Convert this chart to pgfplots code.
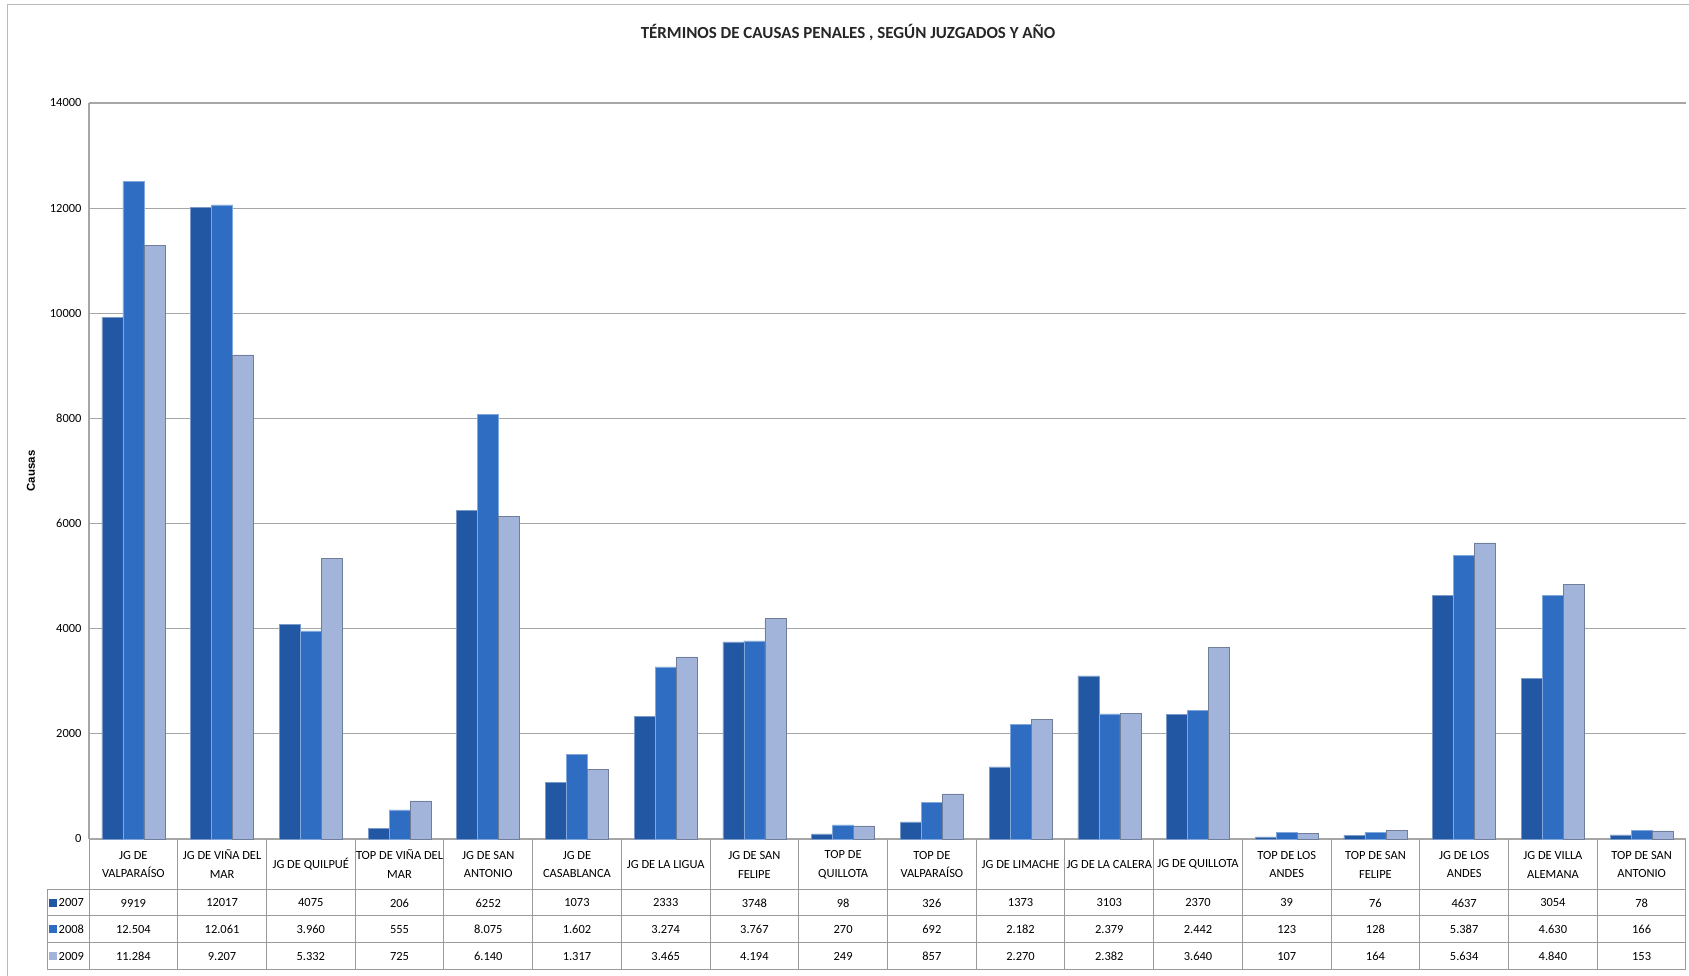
\documentclass[border=0pt]{standalone}
\usepackage{pgfplots}
\pgfplotsset{compat=1.18}
\usepackage{pgfplotstable}
\usepackage{fontspec}
\setmainfont{Carlito}
\newfontfamily\arialf{Liberation Sans}
\pgfkeys{/pgf/number format/assume math mode=true}

\definecolor{gridc}{HTML}{A6A6A6}
\definecolor{tblc}{HTML}{9A9A9A}
\definecolor{ca}{HTML}{2257A4}
\definecolor{cb}{HTML}{2F6DC2}
\definecolor{cc}{HTML}{A2B4DA}

\pgfplotstableread{
idx a b c
0 9919 12504 11284
1 12017 12061 9207
2 4075 3960 5332
3 206 555 725
4 6252 8075 6140
5 1073 1602 1317
6 2333 3274 3465
7 3748 3767 4194
8 98 270 249
9 326 692 857
10 1373 2182 2270
11 3103 2379 2382
12 2370 2442 3640
13 39 123 107
14 76 128 164
15 4637 5387 5634
16 3054 4630 4840
17 78 166 153
}\data

\newcommand\tblfont{\fontsize{12.5}{19}\selectfont}

\begin{document}
\begin{tikzpicture}
\useasboundingbox (0bp,0bp) rectangle (1689bp,976bp);
\draw[gray!55, line width=1bp] (7bp,0bp) -- (7bp,971bp) -- (1689bp,971bp);

\node[font=\fontsize{17}{20}\selectfont\bfseries, text=black!85] at (848bp,943bp) {TÉRMINOS DE CAUSAS PENALES , SEGÚN JUZGADOS Y AÑO};
\node[rotate=90, font=\arialf\fontsize{11.5}{13}\selectfont\bfseries] at (31bp,505bp) {Causas};

\begin{axis}[
  at={(89bp,137bp)}, anchor=south west,
  scale only axis, width=1597bp, height=736bp,
  xmin=-0.5, xmax=17.5, ymin=0, ymax=14000,
  ytick={0,2000,...,14000},
  scaled y ticks=false,
  xtick={0,...,17},
  xticklabels={{JG DE\\VALPARAÍSO},{JG DE VIÑA DEL\\MAR},{JG DE QUILPUÉ},{TOP DE VIÑA DEL\\MAR},{JG DE SAN\\ANTONIO},{JG DE\\CASABLANCA},{JG DE LA LIGUA},{JG DE SAN\\FELIPE},{TOP DE\\QUILLOTA},{TOP DE\\VALPARAÍSO},{JG DE LIMACHE},{JG DE LA CALERA},{JG DE QUILLOTA},{TOP DE LOS\\ANDES},{TOP DE SAN\\FELIPE},{JG DE LOS\\ANDES},{JG DE VILLA\\ALEMANA},{TOP DE SAN\\ANTONIO}},
  xticklabel style={anchor=center, yshift=-25.5bp, align=center, font=\tblfont},
  yticklabel style={font=\tblfont, /pgf/number format/1000 sep={}, xshift=-4bp},
  /pgf/number format/assume math mode=true,
  major tick length=0pt,
  ymajorgrids, grid style={gridc, line width=1.2bp},
  axis x line*=bottom, axis y line*=left,
  axis line style={gridc, line width=1.2bp},
  ybar=0pt, bar width=21bp,
  clip=false,
]
\addplot[draw=ca!60!white, line width=0.6bp, fill=ca] table[x=idx,y=a]{\data};
\addplot[draw=cb!60!white, line width=0.6bp, fill=cb] table[x=idx,y=b]{\data};
\addplot[draw=cc!70!black, line width=0.6bp, fill=cc] table[x=idx,y=c]{\data};
\end{axis}

% data table
\foreach \k in {0,...,18}{
  \pgfmathsetmacro\xx{89+88.72*\k}
  \draw[tblc, line width=1bp] (\xx bp,137bp) -- (\xx bp,6bp);
}
\draw[tblc, line width=1bp] (47bp,86bp) -- (47bp,6bp);
\foreach \yy in {86,60,33,6}{
  \draw[tblc, line width=1bp] (47bp,\yy bp) -- (1686bp,\yy bp);
}
\foreach \i in {0,...,17}{
  \pgfmathsetmacro\cx{89+88.72*(\i+0.5)}
  \pgfplotstablegetelem{\i}{a}\of\data
  \node[font=\tblfont] at (\cx bp,73bp) {\pgfmathprintnumber[1000 sep={}]{\pgfplotsretval}};
  \pgfplotstablegetelem{\i}{b}\of\data
  \node[font=\tblfont] at (\cx bp,46.5bp) {\pgfmathprintnumber[1000 sep={.}]{\pgfplotsretval}};
  \pgfplotstablegetelem{\i}{c}\of\data
  \node[font=\tblfont] at (\cx bp,19.5bp) {\pgfmathprintnumber[1000 sep={.}]{\pgfplotsretval}};
}
% legend keys
\fill[ca] (49bp,69bp) rectangle (57bp,77bp);
\fill[cb] (49bp,42.5bp) rectangle (57bp,50.5bp);
\fill[cc] (49bp,15.5bp) rectangle (57bp,23.5bp);
\node[font=\tblfont, anchor=west, inner sep=0pt] at (58.5bp,73bp) {2007};
\node[font=\tblfont, anchor=west, inner sep=0pt] at (58.5bp,46.5bp) {2008};
\node[font=\tblfont, anchor=west, inner sep=0pt] at (58.5bp,19.5bp) {2009};
\end{tikzpicture}
\end{document}
